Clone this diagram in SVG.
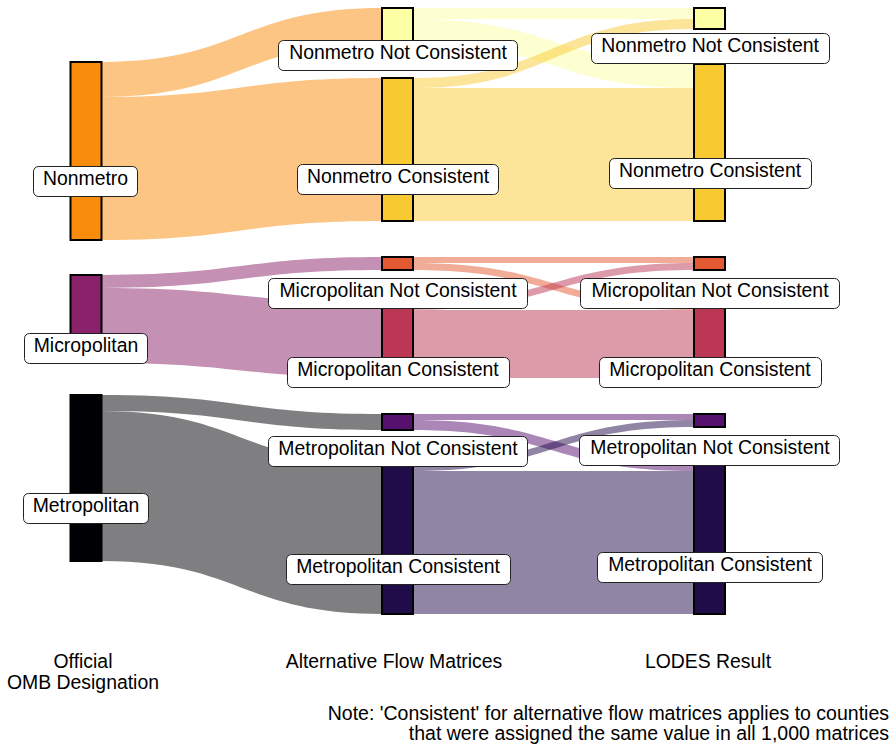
<svg xmlns="http://www.w3.org/2000/svg" width="894" height="744" viewBox="0 0 894 744">
<style>
.flow{fill-opacity:0.5;stroke:none}
.node rect.bar{stroke:#000;stroke-width:2}
.lbl{fill:#fff;stroke:#222;stroke-width:1}
text{font-family:"Liberation Sans",Arial,sans-serif;font-size:19.4px;fill:#000}
.t{text-anchor:middle}
.note{font-size:19.5px;text-anchor:end}
</style>
<rect width="894" height="744" fill="#fff"/>
<g id="connectors">
<path class="flow" fill="#F98C0A" d="M101,62 C241,62 241,8 382,8 L382,43 C241,43 241,97 101,97 Z"/>
<path class="flow" fill="#F98C0A" d="M101,97 C241,97 241,78 382,78 L382,221 C241,221 241,240 101,240 Z"/>
<path class="flow" fill="#89226A" d="M101,275 C241,275 241,257 382,257 L382,270 C241,270 241,288 101,288 Z"/>
<path class="flow" fill="#89226A" d="M101,288 C241,288 241,303 382,303 L382,378 C241,378 241,363 101,363 Z"/>
<path class="flow" fill="#000004" d="M101,395 C241,395 241,414 382,414 L382,430 C241,430 241,411 101,411 Z"/>
<path class="flow" fill="#000004" d="M101,411 C241,411 241,464 382,464 L382,614 C241,614 241,561 101,561 Z"/>
<path class="flow" fill="#FCFFA4" d="M413,8 L694,8 L694,19 L413,19 Z"/>
<path class="flow" fill="#FCFFA4" d="M413,19 C553,19 553,64 694,64 L694,88 C553,88 553,43 413,43 Z"/>
<path class="flow" fill="#F9C932" d="M413,78 C553,78 553,19 694,19 L694,29 C553,29 553,88 413,88 Z"/>
<path class="flow" fill="#F9C932" d="M413,88 L694,88 L694,221 L413,221 Z"/>
<path class="flow" fill="#E35932" d="M413,257 L694,257 L694,263 L413,263 Z"/>
<path class="flow" fill="#E35932" d="M413,263 C553,263 553,303 694,303 L694,310 C553,310 553,270 413,270 Z"/>
<path class="flow" fill="#BB3754" d="M413,303 C553,303 553,263 694,263 L694,270 C553,270 553,310 413,310 Z"/>
<path class="flow" fill="#BB3754" d="M413,310 L694,310 L694,378 L413,378 Z"/>
<path class="flow" fill="#56106E" d="M413,414 L694,414 L694,420 L413,420 Z"/>
<path class="flow" fill="#56106E" d="M413,420 C553,420 553,461 694,461 L694,471 C553,471 553,430 413,430 Z"/>
<path class="flow" fill="#210C4A" d="M413,464 C553,464 553,420 694,420 L694,427 C553,427 553,471 413,471 Z"/>
<path class="flow" fill="#210C4A" d="M413,471 L694,471 L694,614 L413,614 Z"/>
</g>
<g id="node-nonmetro" class="node"><rect class="bar" x="70.5" y="62" width="31" height="178" fill="#F98C0A"/></g>
<g id="node-micropolitan" class="node"><rect class="bar" x="70.5" y="275" width="31" height="88" fill="#89226A"/></g>
<g id="node-metropolitan" class="node"><rect class="bar" x="70.5" y="395" width="31" height="166" fill="#000004"/></g>
<g id="node-alt-nonmetro-nc" class="node"><rect class="bar" x="382" y="8" width="31" height="35" fill="#FCFFA4"/></g>
<g id="node-alt-nonmetro-c" class="node"><rect class="bar" x="382" y="78" width="31" height="143" fill="#F9C932"/></g>
<g id="node-alt-micro-nc" class="node"><rect class="bar" x="382" y="257" width="31" height="13" fill="#E35932"/></g>
<g id="node-alt-micro-c" class="node"><rect class="bar" x="382" y="303" width="31" height="75" fill="#BB3754"/></g>
<g id="node-alt-metro-nc" class="node"><rect class="bar" x="382" y="414" width="31" height="16" fill="#56106E"/></g>
<g id="node-alt-metro-c" class="node"><rect class="bar" x="382" y="464" width="31" height="150" fill="#210C4A"/></g>
<g id="node-lodes-nonmetro-nc" class="node"><rect class="bar" x="694" y="8" width="31" height="21" fill="#FCFFA4"/></g>
<g id="node-lodes-nonmetro-c" class="node"><rect class="bar" x="694" y="64" width="31" height="157" fill="#F9C932"/></g>
<g id="node-lodes-micro-nc" class="node"><rect class="bar" x="694" y="257" width="31" height="13" fill="#E35932"/></g>
<g id="node-lodes-micro-c" class="node"><rect class="bar" x="694" y="303" width="31" height="75" fill="#BB3754"/></g>
<g id="node-lodes-metro-nc" class="node"><rect class="bar" x="694" y="414" width="31" height="13" fill="#56106E"/></g>
<g id="node-lodes-metro-c" class="node"><rect class="bar" x="694" y="461" width="31" height="153" fill="#210C4A"/></g>
<g id="labels">
<g id="label-nonmetro"><rect class="lbl" x="33.5" y="166.5" width="104" height="30" rx="5"/><text class="t" x="85.5" y="184.5">Nonmetro</text></g>
<g id="label-micropolitan"><rect class="lbl" x="24.5" y="333.5" width="123" height="30" rx="5"/><text class="t" x="86" y="351.5">Micropolitan</text></g>
<g id="label-metropolitan"><rect class="lbl" x="23.5" y="493.5" width="125" height="30" rx="5"/><text class="t" x="86" y="511.5">Metropolitan</text></g>
<g id="label-alt-nonmetro-nc"><rect class="lbl" x="278.5" y="40.5" width="239" height="30" rx="5"/><text class="t" x="398" y="58.5">Nonmetro Not Consistent</text></g>
<g id="label-alt-nonmetro-c"><rect class="lbl" x="297.5" y="164.5" width="201" height="30" rx="5"/><text class="t" x="398" y="182.5">Nonmetro Consistent</text></g>
<g id="label-alt-micro-nc"><rect class="lbl" x="268.5" y="278.5" width="259" height="30" rx="5"/><text class="t" x="398" y="296.5">Micropolitan Not Consistent</text></g>
<g id="label-alt-micro-c"><rect class="lbl" x="287.5" y="357.5" width="222" height="30" rx="5"/><text class="t" x="398" y="375.5">Micropolitan Consistent</text></g>
<g id="label-alt-metro-nc"><rect class="lbl" x="268.5" y="436.5" width="259" height="30" rx="5"/><text class="t" x="398" y="454.5">Metropolitan Not Consistent</text></g>
<g id="label-alt-metro-c"><rect class="lbl" x="286.5" y="554.5" width="224" height="30" rx="5"/><text class="t" x="398" y="572.5">Metropolitan Consistent</text></g>
<g id="label-lodes-nonmetro-nc"><rect class="lbl" x="591.5" y="33.5" width="238" height="30" rx="5"/><text class="t" x="710" y="51.5">Nonmetro Not Consistent</text></g>
<g id="label-lodes-nonmetro-c"><rect class="lbl" x="609.5" y="158.5" width="202" height="30" rx="5"/><text class="t" x="710" y="176.5">Nonmetro Consistent</text></g>
<g id="label-lodes-micro-nc"><rect class="lbl" x="580.5" y="278.5" width="259" height="30" rx="5"/><text class="t" x="710" y="296.5">Micropolitan Not Consistent</text></g>
<g id="label-lodes-micro-c"><rect class="lbl" x="599.5" y="357.5" width="222" height="30" rx="5"/><text class="t" x="710" y="375.5">Micropolitan Consistent</text></g>
<g id="label-lodes-metro-nc"><rect class="lbl" x="579.5" y="435.5" width="260" height="30" rx="5"/><text class="t" x="710" y="453.5">Metropolitan Not Consistent</text></g>
<g id="label-lodes-metro-c"><rect class="lbl" x="597.5" y="552.5" width="225" height="30" rx="5"/><text class="t" x="710" y="570.5">Metropolitan Consistent</text></g>
</g>
<g id="axis">
<text class="t" x="83" y="668">Official</text>
<text class="t" x="83" y="689">OMB Designation</text>
<text class="t" x="394" y="668">Alternative Flow Matrices</text>
<text class="t" x="708" y="668">LODES Result</text>
<text class="note" x="889" y="720">Note: 'Consistent' for alternative flow matrices applies to counties</text>
<text class="note" x="889" y="740">that were assigned the same value in all 1,000 matrices</text>
</g>
</svg>
